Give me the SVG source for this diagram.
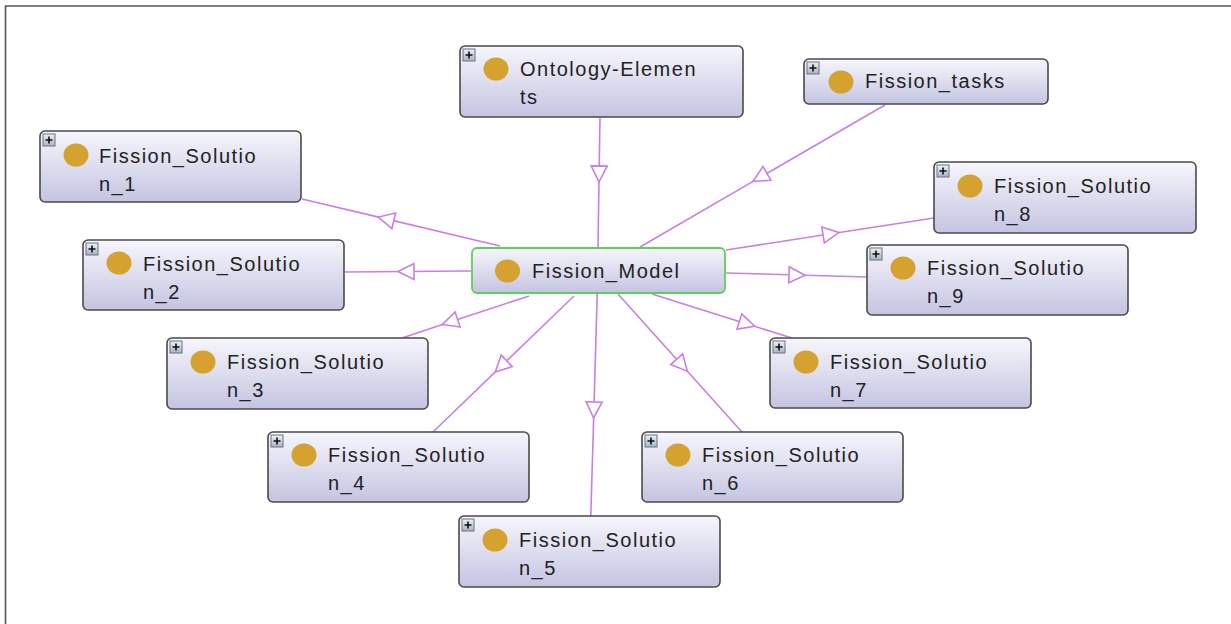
<svg xmlns="http://www.w3.org/2000/svg" width="1231" height="624" viewBox="0 0 1231 624">
<style>
.nb{fill:url(#g);stroke:#4a4a4a;stroke-width:1.6}
.nm{fill:url(#g);stroke:#5ad25a;stroke-width:1.8}
.dot{fill:#d5a12f}
.t{font-family:"Liberation Sans",Arial,sans-serif;font-size:20px;fill:#222;letter-spacing:1.5px}
.pb{fill:url(#pg);stroke:#6a7380;stroke-width:1}
.pl{stroke:#111;stroke-width:1.6}
.e{fill:none;stroke:#c77fe6;stroke-width:1.6;marker-mid:url(#tri)}
</style>
<defs>
<linearGradient id="g" x1="0" y1="0" x2="0" y2="1">
<stop offset="0" stop-color="#f6f6fc"/>
<stop offset="1" stop-color="#c4c4e2"/>
</linearGradient>
<linearGradient id="pg" x1="0" y1="0" x2="0" y2="1">
<stop offset="0" stop-color="#eef2f8"/>
<stop offset="1" stop-color="#a8b2c0"/>
</linearGradient>
<marker id="tri" markerUnits="userSpaceOnUse" markerWidth="20" markerHeight="20" refX="9" refY="8" orient="auto" overflow="visible">
<path d="M1,0 L17,8 L1,16 Z" fill="#fff" stroke="#c77fe6" stroke-width="1.6"/>
</marker>
</defs>
<rect x="0" y="0" width="1231" height="624" fill="#fff"/>
<path d="M5.5,624 V6 H1231" fill="none" stroke="#555" stroke-width="1.6"/>

<g id="connectors">
<path class="e" d="M600,118 L599.1,174 L598,247"/>
<path class="e" d="M885,105 L760,177.4 L640,247"/>
<path class="e" d="M500,246 L386,218.9 L302,199"/>
<path class="e" d="M471,271 L406,271.5 L345,272"/>
<path class="e" d="M529,296 L450,322 L402,338"/>
<path class="e" d="M574,296 L501,366.4 L433,432"/>
<path class="e" d="M597.2,294 L593.9,410 L590.8,516"/>
<path class="e" d="M618,294 L682,365.2 L742,432"/>
<path class="e" d="M652,294 L747,323.9 L792,338"/>
<path class="e" d="M726,250 L831,233.8 L934,218"/>
<path class="e" d="M726,273 L797,275 L867,277"/>
</g>

<g id="ontology-elements">
<rect class="nb" x="460" y="46" width="283" height="71" rx="5"/>
<rect class="pb" x="463" y="49" width="12" height="12"/>
<path class="pl" d="M465.5,55 H472.5 M469,51.5 V58.5"/>
<ellipse class="dot" cx="496" cy="69" rx="12.5" ry="11.5"/>
<text class="t" x="520" y="76">Ontology-Elemen</text>
<text class="t" x="520" y="104">ts</text>
</g>

<g id="fission-tasks">
<rect class="nb" x="804" y="59" width="244" height="45" rx="5"/>
<rect class="pb" x="807" y="62" width="12" height="12"/>
<path class="pl" d="M809.5,68 H816.5 M813,64.5 V71.5"/>
<ellipse class="dot" cx="841" cy="82" rx="12.5" ry="11.5"/>
<text class="t" x="865" y="88">Fission_tasks</text>
</g>

<g id="fission-model">
<rect class="nm" x="472" y="248" width="253" height="45" rx="5"/>
<ellipse class="dot" cx="507.5" cy="271" rx="12.5" ry="11.5"/>
<text class="t" x="532" y="278">Fission_Model</text>
</g>

<g id="fission-solution-1">
<rect class="nb" x="40" y="131" width="261" height="71" rx="5"/>
<rect class="pb" x="43" y="134" width="12" height="12"/>
<path class="pl" d="M45.5,140 H52.5 M49,136.5 V143.5"/>
<ellipse class="dot" cx="76" cy="155" rx="12.5" ry="11.5"/>
<text class="t" x="99" y="163">Fission_Solutio</text>
<text class="t" x="99" y="191">n_1</text>
</g>

<g id="fission-solution-2">
<rect class="nb" x="83" y="240" width="261" height="70" rx="5"/>
<rect class="pb" x="86" y="243" width="12" height="12"/>
<path class="pl" d="M88.5,249 H95.5 M92,245.5 V252.5"/>
<ellipse class="dot" cx="119" cy="263" rx="12.5" ry="11.5"/>
<text class="t" x="143" y="271">Fission_Solutio</text>
<text class="t" x="143" y="299">n_2</text>
</g>

<g id="fission-solution-3">
<rect class="nb" x="167" y="338" width="261" height="71" rx="5"/>
<rect class="pb" x="170" y="341" width="12" height="12"/>
<path class="pl" d="M172.5,347 H179.5 M176,343.5 V350.5"/>
<ellipse class="dot" cx="203" cy="362" rx="12.5" ry="11.5"/>
<text class="t" x="227" y="369">Fission_Solutio</text>
<text class="t" x="227" y="397">n_3</text>
</g>

<g id="fission-solution-4">
<rect class="nb" x="268" y="432" width="261" height="70" rx="5"/>
<rect class="pb" x="271" y="435" width="12" height="12"/>
<path class="pl" d="M273.5,441 H280.5 M277,437.5 V444.5"/>
<ellipse class="dot" cx="304" cy="455" rx="12.5" ry="11.5"/>
<text class="t" x="328" y="462">Fission_Solutio</text>
<text class="t" x="328" y="490">n_4</text>
</g>

<g id="fission-solution-5">
<rect class="nb" x="459" y="516" width="261" height="71" rx="5"/>
<rect class="pb" x="462" y="519" width="12" height="12"/>
<path class="pl" d="M464.5,525 H471.5 M468,521.5 V528.5"/>
<ellipse class="dot" cx="495" cy="540" rx="12.5" ry="11.5"/>
<text class="t" x="519" y="547">Fission_Solutio</text>
<text class="t" x="519" y="575">n_5</text>
</g>

<g id="fission-solution-6">
<rect class="nb" x="642" y="432" width="261" height="70" rx="5"/>
<rect class="pb" x="645" y="435" width="12" height="12"/>
<path class="pl" d="M647.5,441 H654.5 M651,437.5 V444.5"/>
<ellipse class="dot" cx="678" cy="455" rx="12.5" ry="11.5"/>
<text class="t" x="702" y="462">Fission_Solutio</text>
<text class="t" x="702" y="490">n_6</text>
</g>

<g id="fission-solution-7">
<rect class="nb" x="770" y="338" width="261" height="70" rx="5"/>
<rect class="pb" x="773" y="341" width="12" height="12"/>
<path class="pl" d="M775.5,347 H782.5 M779,343.5 V350.5"/>
<ellipse class="dot" cx="806" cy="362" rx="12.5" ry="11.5"/>
<text class="t" x="830" y="369">Fission_Solutio</text>
<text class="t" x="830" y="397">n_7</text>
</g>

<g id="fission-solution-8">
<rect class="nb" x="934" y="162" width="262" height="71" rx="5"/>
<rect class="pb" x="937" y="165" width="12" height="12"/>
<path class="pl" d="M939.5,171 H946.5 M943,167.5 V174.5"/>
<ellipse class="dot" cx="970" cy="186" rx="12.5" ry="11.5"/>
<text class="t" x="994" y="193">Fission_Solutio</text>
<text class="t" x="994" y="221">n_8</text>
</g>

<g id="fission-solution-9">
<rect class="nb" x="867" y="245" width="261" height="70" rx="5"/>
<rect class="pb" x="870" y="248" width="12" height="12"/>
<path class="pl" d="M872.5,254 H879.5 M876,250.5 V257.5"/>
<ellipse class="dot" cx="903" cy="268" rx="12.5" ry="11.5"/>
<text class="t" x="927" y="275">Fission_Solutio</text>
<text class="t" x="927" y="303">n_9</text>
</g>
</svg>
